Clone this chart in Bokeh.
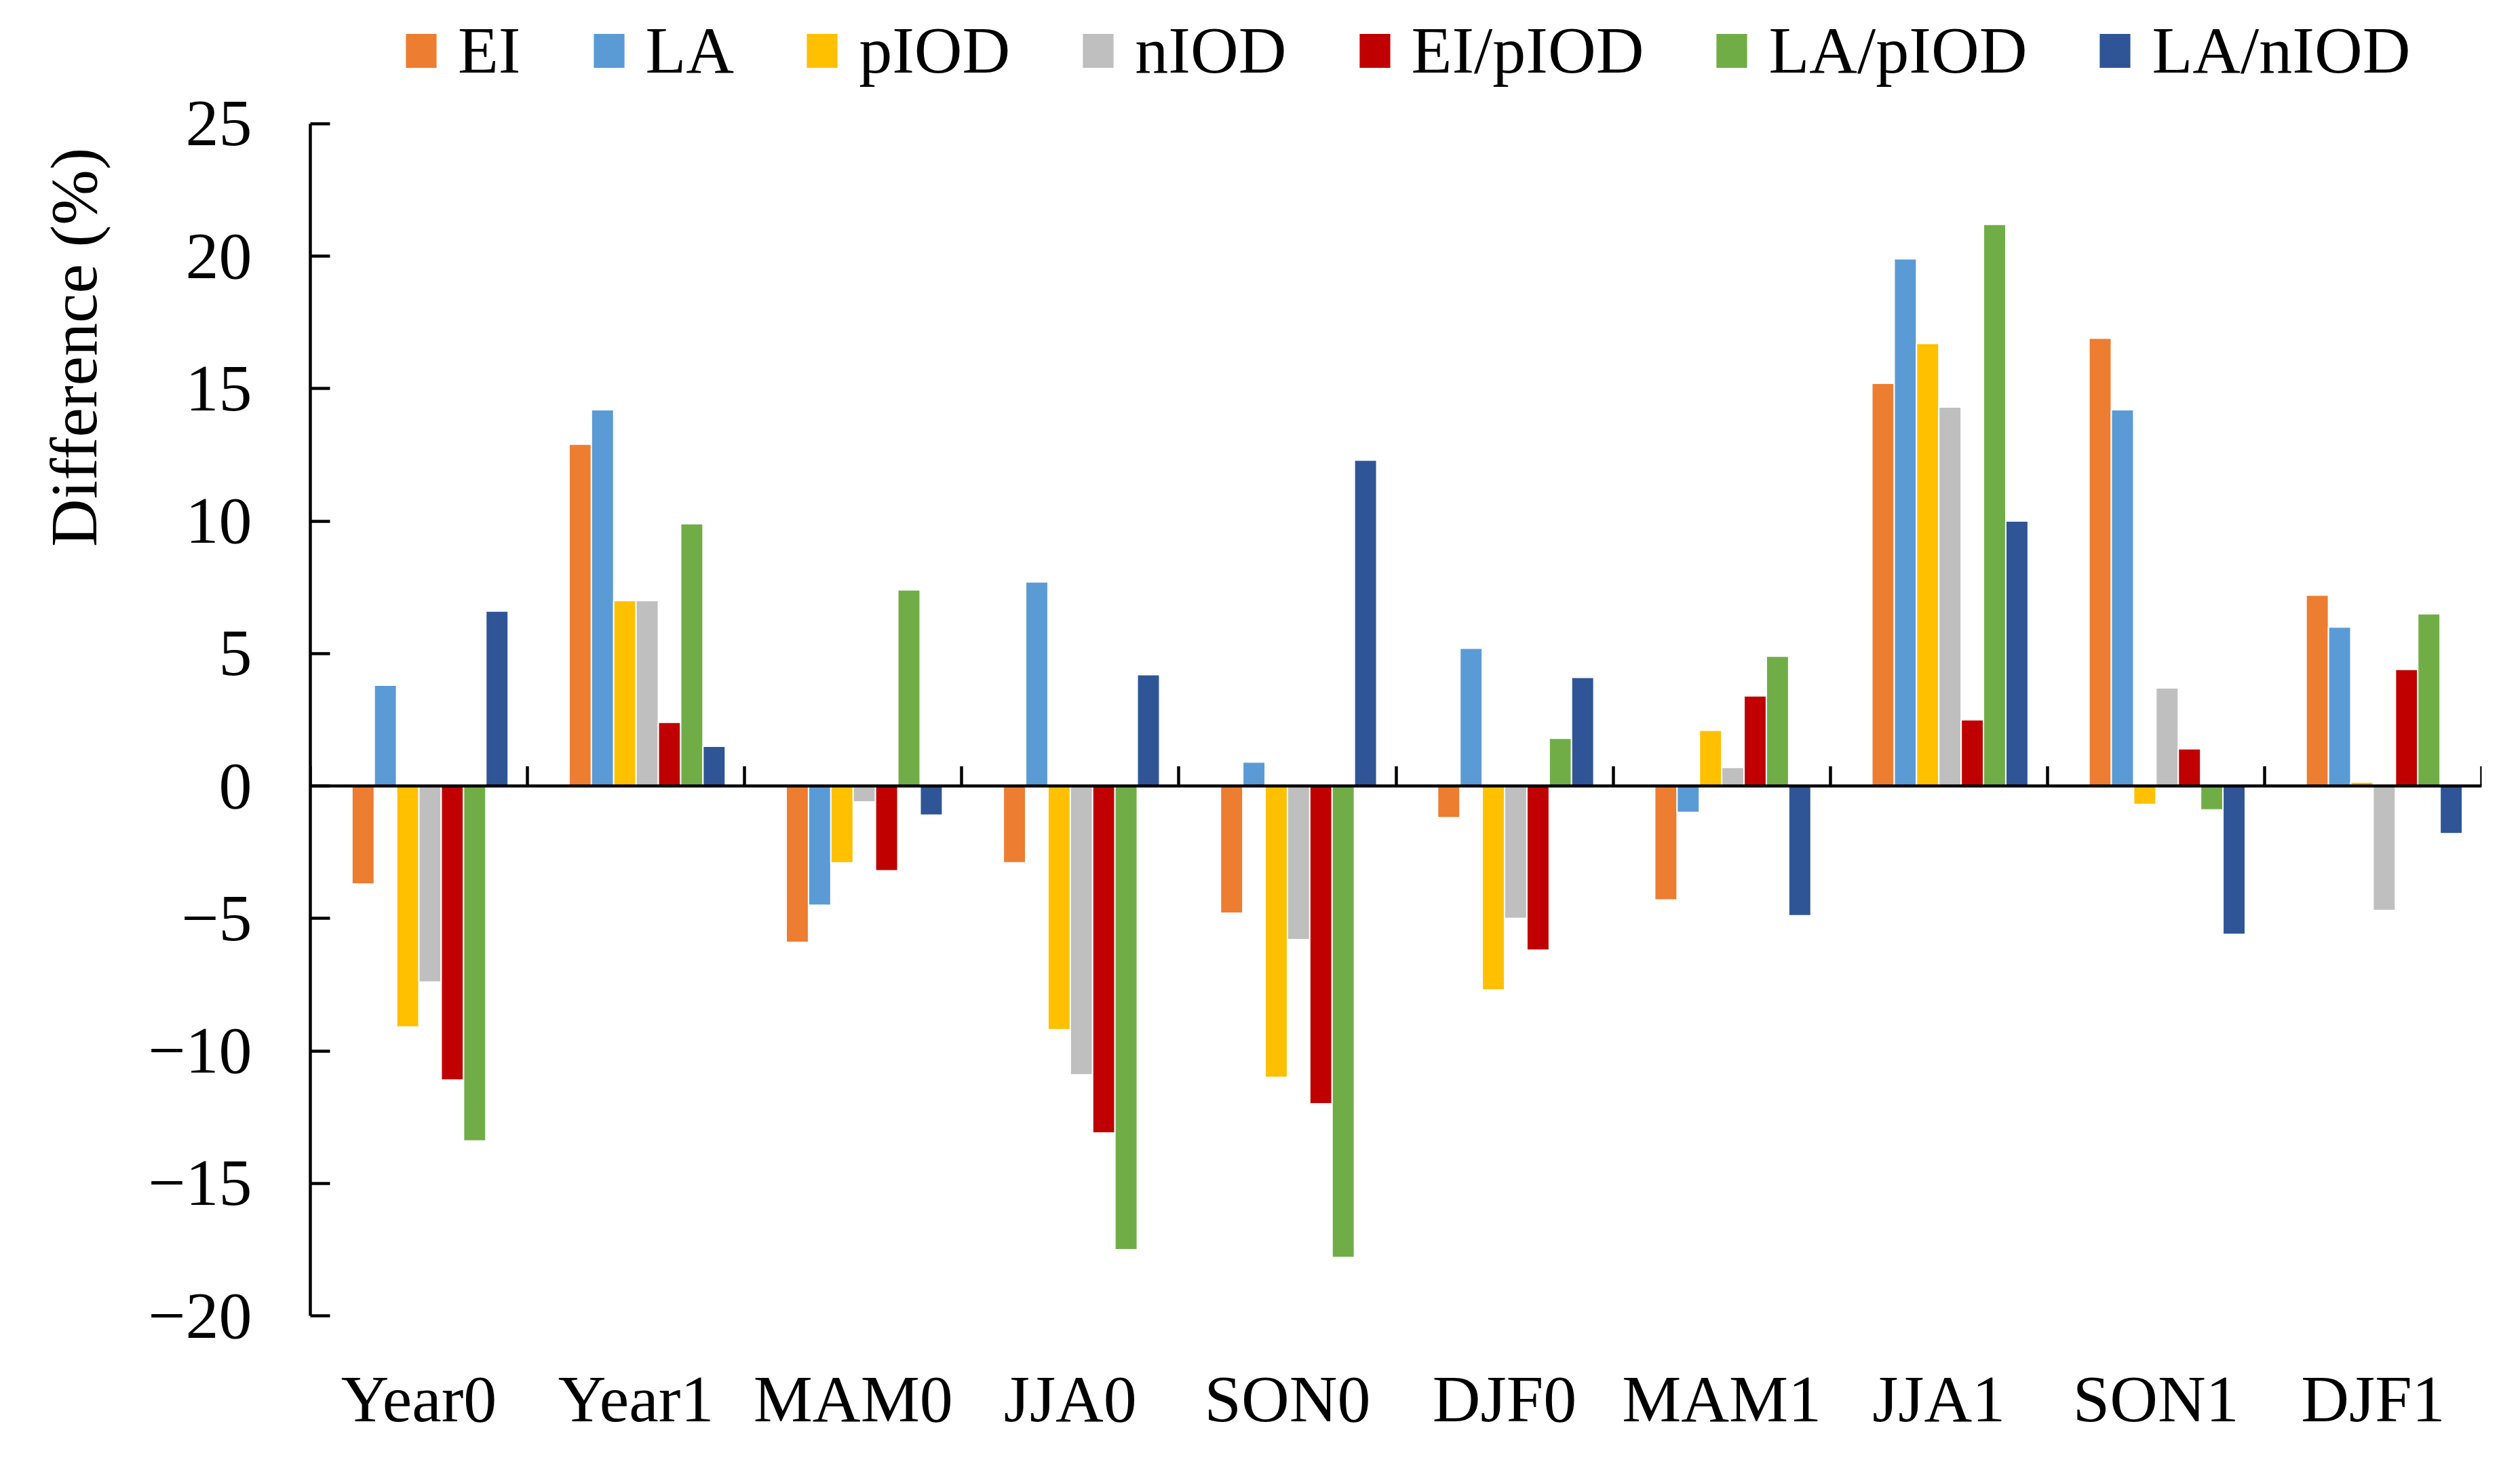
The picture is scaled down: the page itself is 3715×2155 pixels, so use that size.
import math
from bokeh.plotting import figure
from bokeh.models import (ColumnDataSource, Range1d, FixedTicker, LinearAxis,
                          Legend, LegendItem, Title)
from bokeh.embed import file_html
from bokeh.resources import INLINE

categories = ["Year0", "Year1", "MAM0", "JJA0", "SON0", "DJF0", "MAM1", "JJA1", "SON1", "DJF1"]
series_names = ["EI", "LA", "pIOD", "nIOD", "EI/pIOD", "LA/pIOD", "LA/nIOD"]
EI      = [-3.7, 12.9, -5.9, -2.9, -4.8, -1.2, -4.3, 15.2, 16.9, 7.2]
LA      = [3.8, 14.2, -4.5, 7.7, 0.9, 5.2, -1.0, 19.9, 14.2, 6.0]
pIOD    = [-9.1, 7.0, -2.9, -9.2, -11.0, -7.7, 2.1, 16.7, -0.7, 0.15]
nIOD    = [-7.4, 7.0, -0.6, -10.9, -5.8, -5.0, 0.7, 14.3, 3.7, -4.7]
EI_pIOD = [-11.1, 2.4, -3.2, -13.1, -12.0, -6.2, 3.4, 2.5, 1.4, 4.4]
LA_pIOD = [-13.4, 9.9, 7.4, -17.5, -17.8, 1.8, 4.9, 21.2, -0.9, 6.5]
LA_nIOD = [6.6, 1.5, -1.1, 4.2, 12.3, 4.1, -4.9, 10.0, -5.6, -1.8]
series_values = [EI, LA, pIOD, nIOD, EI_pIOD, LA_pIOD, LA_nIOD]
colors = ["#ED7D31", "#5B9BD5", "#FFC000", "#BFBFBF", "#C00000", "#70AD47", "#2F5597"]
y_ticks = [-20, -15, -10, -5, 0, 5, 10, 15, 20, 25]
y_title = "Difference (%)"

FONT = "Liberation Serif"
FS = "98px"
LW = 4.5

# frame spans the full height (legend lives inside it); axis is bounded to [-20, 25]
TOP = 20
BOTTOM = 200
H = 2139
y_min = y_ticks[0]
y_axis_max = y_ticks[-1]
unit = 39.05
y_max = y_min + (H - BOTTOM - TOP) / unit

p = figure(width=3699, height=H, x_range=Range1d(0, len(categories)),
           y_range=Range1d(y_min, y_max), output_backend="svg", toolbar_location=None,
           min_border_left=449, min_border_right=41, min_border_top=TOP,
           min_border_bottom=BOTTOM)
p.outline_line_color = None
p.xgrid.visible = False
p.ygrid.visible = False
p.background_fill_color = "white"
p.border_fill_color = "white"

slot = 0.1028
renderers = []
for k, (name, vals, col) in enumerate(zip(series_names, series_values, colors)):
    xs = [i + 0.5 + (k - 2.5) * slot for i in range(len(categories))]
    src = ColumnDataSource(dict(x=xs, top=vals))
    r = p.vbar(x="x", top="top", bottom=0, width=slot, source=src,
               fill_color=col, line_color="white", line_width=2)
    renderers.append(r)

# bottom axis: category labels only
xa = p.xaxis[0]
xa.ticker = FixedTicker(ticks=[i + 0.5 for i in range(len(categories))])
xa.major_label_overrides = {i + 0.5: c for i, c in enumerate(categories)}
xa.axis_line_color = None
xa.major_tick_line_color = None
xa.minor_tick_line_color = None
xa.major_label_text_font = FONT
xa.major_label_text_font_size = FS
xa.major_label_text_color = "black"
xa.major_label_standoff = 62

# zero line axis with boundary ticks
zticks = list(range(len(categories) + 1))
za = LinearAxis(fixed_location=0, ticker=FixedTicker(ticks=zticks))
za.major_label_overrides = {t: "" for t in zticks}
za.major_label_standoff = 0
za.major_tick_in = 29
za.major_tick_out = 0
za.major_tick_line_width = LW
za.axis_line_width = LW
za.axis_line_color = "black"
za.major_tick_line_color = "black"
za.minor_tick_line_color = None
p.add_layout(za, "below")

ya = p.yaxis[0]
ya.ticker = FixedTicker(ticks=y_ticks)
ya.bounds = (y_min, y_axis_max)
ya.major_label_overrides = {t: (("\u2212" + str(-t)) if t < 0 else str(t)) for t in y_ticks}
ya.major_tick_in = 29
ya.major_tick_out = 0
ya.major_tick_line_width = LW
ya.axis_line_width = LW
ya.minor_tick_line_color = None
ya.major_label_text_font = FONT
ya.major_label_text_font_size = FS
ya.major_label_text_color = "black"
ya.major_label_standoff = 86

title = Title(text=y_title, align="right", offset=197, standoff=105,
              text_font=FONT, text_font_size=FS, text_font_style="normal",
              text_color="black")
p.add_layout(title, "left")

legend = Legend(items=[LegendItem(label=n, renderers=[r]) for n, r in zip(series_names, renderers)],
                orientation="horizontal", location=(134, H - BOTTOM - 130))
legend.padding = 0
legend.margin = 0
legend.spacing = 100
legend.label_standoff = 25
legend.glyph_width = 59
legend.glyph_height = 65
legend.label_text_font = FONT
legend.label_text_font_size = FS
legend.label_text_color = "black"
legend.background_fill_alpha = 0
legend.border_line_alpha = 0
p.add_layout(legend)

open("out.html", "w").write(file_html(p, INLINE))
